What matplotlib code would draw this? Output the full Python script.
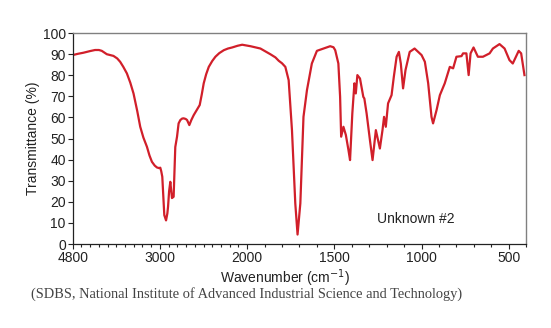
import numpy as np
import matplotlib.pyplot as plt
from matplotlib.ticker import FixedLocator, MultipleLocator

# IR spectrum, Unknown #2 (wavenumber in cm^-1, transmittance in %)
wavenumber = [
    4000, 3940, 3878, 3800, 3744, 3700, 3667, 3609, 3533, 3490, 3456, 3420,
    3379, 3340, 3303, 3260, 3226, 3190, 3149, 3120, 3092, 3060, 3034, 3010,
    2996, 2985, 2973, 2960, 2950, 2930, 2915, 2907, 2895, 2881, 2870, 2862,
    2843, 2824, 2804, 2786, 2766, 2745, 2728, 2705, 2689, 2663, 2640, 2613,
    2575, 2544, 2520, 2498, 2470, 2440, 2400, 2364, 2320, 2268, 2220, 2172,
    2110, 2057, 1981, 1924, 1867, 1838, 1819, 1800, 1781, 1762, 1743, 1724,
    1711, 1695, 1677, 1657, 1629, 1600, 1562, 1524, 1505, 1495, 1477, 1467,
    1461, 1448, 1434, 1419, 1410, 1397, 1385, 1377, 1368, 1353, 1334, 1328,
    1315, 1296, 1281, 1262, 1239, 1224, 1215, 1205, 1192, 1172, 1159, 1143,
    1130, 1119, 1106, 1092, 1068, 1040, 1000, 981, 962, 943, 934, 914, 895,
    867, 838, 819, 800, 771, 762, 743, 730, 719, 702, 677, 648, 610, 591, 553,
    524, 496, 477, 443, 429, 410,
]
transmittance = [
    89.6, 90.2, 90.7, 91.5, 92.0, 92.0, 91.6, 90.0, 89.2, 88.0, 86.4, 84.0,
    80.9, 76.5, 71.4, 63.0, 55.6, 50.5, 46.1, 42.0, 39.0, 37.2, 36.3, 36.0,
    36.2, 34.5, 31.9, 22.0, 13.7, 11.2, 14.5, 17.7, 25.0, 29.5, 25.0, 21.8,
    22.4, 46.0, 50.9, 57.2, 58.8, 59.5, 59.6, 59.3, 58.8, 56.4, 58.8, 61.1,
    63.8, 65.9, 71.0, 76.2, 80.5, 84.0, 86.8, 88.8, 90.5, 91.9, 92.7, 93.2,
    94.0, 94.5, 93.8, 92.7, 90.0, 88.5, 86.9, 85.7, 84.0, 77.7, 54.0, 19.3,
    4.5, 19.3, 60.3, 73.0, 85.6, 91.6, 92.7, 93.8, 93.3, 91.9, 85.6, 69.8,
    50.9, 55.6, 51.7, 44.5, 39.8, 61.9, 76.2, 71.4, 80.1, 78.5, 69.8, 69.0,
    61.9, 49.3, 39.8, 54.0, 45.3, 54.0, 60.3, 55.6, 66.7, 70.6, 79.3, 88.8,
    91.1, 85.6, 73.8, 82.5, 91.1, 92.7, 89.6, 86.4, 76.2, 60.3, 57.2, 63.5,
    70.6, 76.2, 84.0, 83.3, 88.8, 89.1, 90.4, 90.4, 80.1, 90.4, 93.2, 88.8,
    88.8, 90.4, 92.7, 94.8, 92.7, 87.2, 85.6, 91.6, 90.4, 80.1,
]

x_ticks = [4000, 3000, 2000, 1500, 1000, 500]
x_tick_labels = ["4800", "3000", "2000", "1500", "1000", "500"]
y_ticks = list(range(0, 101, 10))


def forward(w):
    # above 2000 cm^-1 the axis is compressed to half scale
    w = np.asarray(w, dtype=float)
    return np.where(w > 2000, 2000 + (w - 2000) / 2, w)


def inverse(p):
    p = np.asarray(p, dtype=float)
    return np.where(p > 2000, 2000 + (p - 2000) * 2, p)


plt.rcParams["font.family"] = ["Liberation Sans", "DejaVu Sans"]

fig = plt.figure(figsize=(5.51, 3.28), dpi=100)
ax = fig.add_axes([0.132, 0.256, 0.823, 0.643])

ax.plot(wavenumber, transmittance, color="#d11f2a", lw=1.6,
        solid_joinstyle="round")

ax.set_xscale("function", functions=(forward, inverse))
ax.set_xlim(4000, 400)
ax.set_ylim(0, 100)

ax.xaxis.set_major_locator(FixedLocator(x_ticks))
ax.set_xticklabels(x_tick_labels)
ax.xaxis.set_minor_locator(MultipleLocator(100))
ax.set_yticks(y_ticks)

ax.tick_params(axis="both", which="major", labelsize=10, length=3.5,
               width=0.8, colors="#222222", pad=1.5)
ax.tick_params(axis="x", which="minor", length=2, width=0.8,
               colors="#222222")

for side in ("left", "bottom"):
    ax.spines[side].set_color("#222222")
    ax.spines[side].set_linewidth(0.9)
for side in ("top", "right"):
    ax.spines[side].set_color("#808080")
    ax.spines[side].set_linewidth(1.0)

ax.set_ylabel("Transmittance (%)", fontsize=10, color="#222222", labelpad=2)
fig.text(285 / 551, 1 - 278 / 328, "Wavenumber (cm$^{-1}$)", fontsize=10,
         color="#222222", ha="center", va="center")

ax.text(0.671, 0.118, "Unknown #2", transform=ax.transAxes, fontsize=10,
        color="#222222", ha="left", va="center")

fig.text(247 / 551, 1 - 294 / 328,
         "(SDBS, National Institute of Advanced Industrial Science and Technology)",
         fontsize=10.4, color="#444444", ha="center", va="center",
         family="Liberation Serif")

fig.savefig("out.png", dpi=100)
